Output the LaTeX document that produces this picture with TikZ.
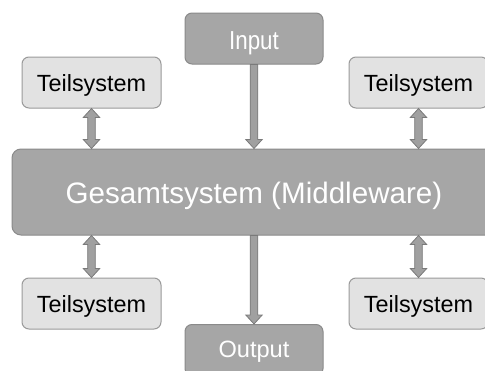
\documentclass[tikz,border=0pt]{standalone}
\usepackage{fontspec}
\usepackage{graphicx}
\setmainfont{Liberation Sans}
\usetikzlibrary{calc}
\definecolor{boxlight}{HTML}{E2E2E2}
\definecolor{boxlightline}{HTML}{9A9A9A}
\definecolor{boxdark}{HTML}{A6A6A6}
\definecolor{boxdarkline}{HTML}{8A8A8A}
\definecolor{arrowfill}{HTML}{A0A0A0}
\definecolor{arrowline}{HTML}{7A7A7A}
\tikzset{
  part/.style={draw=boxlightline, fill=boxlight, line width=1pt, rounded corners=7pt,
    minimum width=139pt, minimum height=51pt, inner sep=0pt,
    text height=18.4pt, text depth=0pt,
    font=\fontsize{23.4}{26}\selectfont, text=black},
  io/.style={draw=boxdarkline, fill=boxdark, line width=1pt, rounded corners=7pt,
    minimum width=138pt, minimum height=51pt, inner sep=0pt,
    text depth=0pt, text=white},
  core/.style={draw=boxdarkline, fill=boxdark, line width=1pt, rounded corners=9pt,
    minimum width=484pt, minimum height=86pt, inner sep=0pt,
    text height=23.5pt, text depth=0pt,
    font=\fontsize{29.6}{34}\selectfont, text=white},
  % vertical block arrow, tip at the target
  onearrow/.style={draw=arrowline, fill=arrowfill, line width=0.8pt,
    to path={let \p1=(\tikztostart), \p2=(\tikztotarget), \n1={sign(\y2-\y1)} in
      ({\x1-3.8pt},\y1) -- ({\x1-3.8pt},{\y2-\n1*9pt}) -- ({\x1-8.2pt},{\y2-\n1*9pt})
      -- (\x1,\y2) -- ({\x1+8.2pt},{\y2-\n1*9pt}) -- ({\x1+3.8pt},{\y2-\n1*9pt})
      -- ({\x1+3.8pt},\y1) -- cycle}},
  % vertical block arrow, tips at both ends
  twoarrow/.style={draw=arrowline, fill=arrowfill, line width=0.8pt,
    to path={let \p1=(\tikztostart), \p2=(\tikztotarget), \n1={sign(\y2-\y1)} in
      (\x1,\y1) -- ({\x1+8.2pt},{\y1+\n1*9pt}) -- ({\x1+3.8pt},{\y1+\n1*9pt})
      -- ({\x1+3.8pt},{\y2-\n1*9pt}) -- ({\x1+8.2pt},{\y2-\n1*9pt}) -- (\x1,\y2)
      -- ({\x1-8.2pt},{\y2-\n1*9pt}) -- ({\x1-3.8pt},{\y2-\n1*9pt})
      -- ({\x1-3.8pt},{\y1+\n1*9pt}) -- ({\x1-8.2pt},{\y1+\n1*9pt}) -- cycle}},
}
\begin{document}
\begin{tikzpicture}[x=1pt, y=-1pt]
  \useasboundingbox[fill=white] (0,0) rectangle (485,370);

  \node[io, text height=21.5pt, font=\fontsize{26}{28}\selectfont]
              (inp) at (254,38.5)   {\scalebox{0.86}[1]{Input}};
  \node[part] (tl)  at (91.5,82.5)  {Teilsystem};
  \node[part] (tr)  at (418.5,82.5) {Teilsystem};
  \node[core] (gs)  at (254,192)    {Gesamtsystem (Middleware)};
  \node[part] (bl)  at (91.5,303.5) {Teilsystem};
  \node[part] (br)  at (418.5,303.5){Teilsystem};
  \node[io, text height=15pt, font=\fontsize{23.6}{26}\selectfont]
              (out) at (254,350)    {Output};

  \draw[twoarrow] (tl.south) to (tl.south |- gs.north);
  \draw[twoarrow] (tr.south) to (tr.south |- gs.north);
  \draw[onearrow] (inp.south) to (inp.south |- gs.north);
  \draw[twoarrow] (bl.south |- gs.south) to (bl.north);
  \draw[twoarrow] (br.south |- gs.south) to (br.north);
  \draw[onearrow] (out.north |- gs.south) to (out.north);
\end{tikzpicture}
\end{document}
